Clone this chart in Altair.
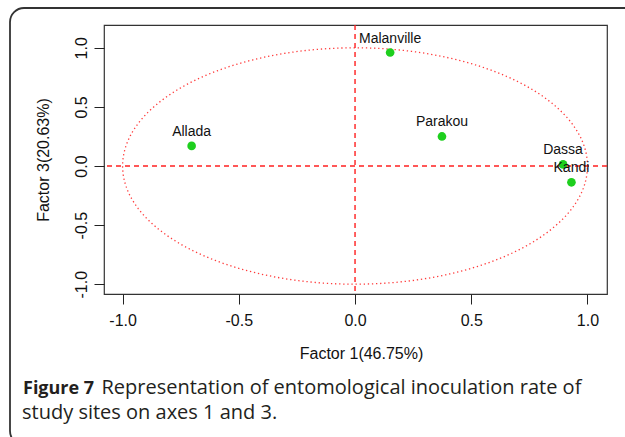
import altair as alt
import numpy as np
import pandas as pd

# ---- data ----
sites = ["Malanville", "Parakou", "Allada", "Dassa", "Kandi"]
factor1 = [0.151, 0.374, -0.703, 0.895, 0.931]
factor3 = [0.960, 0.250, 0.170, 0.014, -0.138]

x_ticks = [-1.0, -0.5, 0.0, 0.5, 1.0]
y_ticks = [-1.0, -0.5, 0.0, 0.5, 1.0]

x_title = "Factor 1(46.75%)"
y_title = "Factor 3(20.63%)"
caption_bold = "Figure 7"
caption_line1 = "Representation of entomological inoculation rate of"
caption_line2 = "study sites on axes 1 and 3."

# ---- layout ----
W, H = 503, 269
PAD_L, PAD_T = 104, 25
xdom = [-1.08, 1.084]
ydom = [-1.083, 1.193]

pts = pd.DataFrame({"x": factor1, "y": factor3, "site": sites})
theta = np.linspace(0, 2 * np.pi, 361)
circle = pd.DataFrame({"x": np.cos(theta), "y": np.sin(theta), "i": np.arange(361)})
zero = pd.DataFrame({"x": [0.0], "y": [0.0]})
one = pd.DataFrame({"k": [0]})

FONT = "Liberation Sans"
LBL = "datum.value < 0 ? '-' + format(-datum.value, '.1f') : format(datum.value, '.1f')"
xaxis = alt.Axis(values=x_ticks, labelExpr=LBL, title=x_title, grid=False, domain=False,
                 tickSize=10, tickColor="#222", tickWidth=1,
                 labelFont=FONT, labelFontSize=16, labelColor="#111", labelPadding=8,
                 titleFont=FONT, titleFontSize=16, titleFontWeight="normal", titleColor="#111",
                 titleX=257, titleY=64, titleBaseline="alphabetic", titleAlign="center")
yaxis = alt.Axis(values=y_ticks, labelExpr=LBL, title=y_title, grid=False, domain=False,
                 tickSize=10, tickColor="#222", tickWidth=1,
                 labelFont=FONT, labelFontSize=16, labelColor="#111", labelPadding=8,
                 labelAngle=270, labelAlign="center", labelBaseline="alphabetic",
                 titleFont=FONT, titleFontSize=16, titleFontWeight="normal", titleColor="#111",
                 titleAngle=270, titleX=-56, titleY=H / 2, titleBaseline="alphabetic",
                 titleAlign="center")

xs = alt.Scale(domain=xdom, nice=False, zero=False)
ys = alt.Scale(domain=ydom, nice=False, zero=False)
X = alt.X("x:Q", scale=xs, axis=xaxis)
Y = alt.Y("y:Q", scale=ys, axis=yaxis)

ellipse = alt.Chart(circle).mark_line(color="#ff3a3a", strokeWidth=1.3, strokeDash=[1.3, 2.8]).encode(
    x=X, y=Y, order="i:Q")
vline = alt.Chart(zero).mark_rule(color="#ff2020", strokeWidth=1.4, strokeDash=[5, 4]).encode(x=X)
hline = alt.Chart(zero).mark_rule(color="#ff2020", strokeWidth=1.4, strokeDash=[5, 4]).encode(y=Y)
points = alt.Chart(pts).mark_point(filled=True, shape="circle", size=75, color="#1ecf1e", opacity=1).encode(
    x=X, y=Y)
labels = alt.Chart(pts).mark_text(font=FONT, fontSize=14, color="#111", dy=-10,
                                  align="center", baseline="alphabetic").encode(x=X, y=Y, text="site:N")

frame = alt.Chart(one).mark_rect(filled=False, stroke="#333", strokeWidth=1.8, cornerRadius=14).encode(
    x=alt.value(10 - PAD_L), y=alt.value(8 - PAD_T), x2=alt.value(640 - PAD_L), y2=alt.value(445 - PAD_T))

cap_font = "Open Sans"
cap_b = alt.Chart(one).mark_text(font=cap_font, fontSize=18, fontWeight="bold", color="#231f20",
                                 align="left", baseline="alphabetic").encode(
    x=alt.value(23 - PAD_L), y=alt.value(394 - PAD_T), text=alt.value(caption_bold))
cap_1 = alt.Chart(one).mark_text(font=cap_font, fontSize=20, color="#231f20",
                                 align="left", baseline="alphabetic").encode(
    x=alt.value(101.5 - PAD_L), y=alt.value(394 - PAD_T), text=alt.value(caption_line1))
cap_2 = alt.Chart(one).mark_text(font=cap_font, fontSize=20, color="#231f20",
                                 align="left", baseline="alphabetic").encode(
    x=alt.value(22 - PAD_L), y=alt.value(419 - PAD_T), text=alt.value(caption_line2))

chart = alt.layer(ellipse, vline, hline, points, labels, frame, cap_b, cap_1, cap_2).properties(
    width=W, height=H,
    autosize=alt.AutoSizeParams(type="none"),
    padding={"left": PAD_L, "top": PAD_T, "right": 625 - PAD_L - W, "bottom": 437 - PAD_T - H},
    background="white",
).configure_view(stroke="#333", strokeWidth=1.2)

chart.save("out.html", embed_options={"renderer": "svg", "actions": False})
